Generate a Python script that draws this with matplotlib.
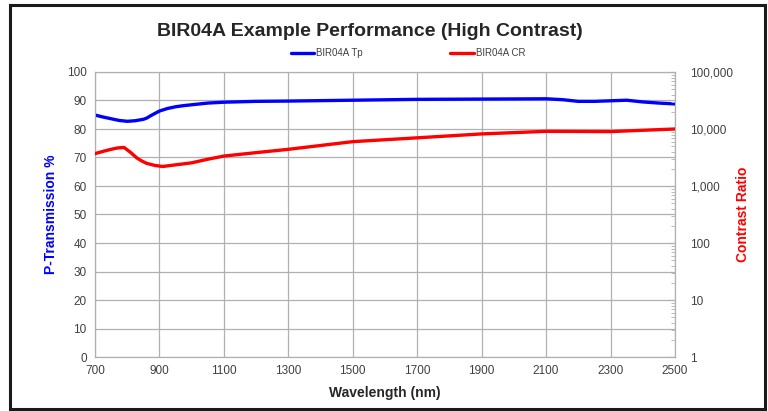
import matplotlib
matplotlib.use('Agg')
import matplotlib.pyplot as plt
from matplotlib.ticker import FixedLocator, LogLocator, NullFormatter, FuncFormatter
from matplotlib.patches import Rectangle

plt.rcParams['font.family'] = ['Liberation Sans', 'DejaVu Sans']

# P-transmission (%), left axis
tp_wavelength = [700, 725, 750, 775, 800, 825, 850, 860, 875, 890, 900, 925, 950,
                 975, 1000, 1050, 1100, 1200, 1300, 1500, 1700, 1900, 2100, 2150,
                 2200, 2250, 2300, 2350, 2400, 2450, 2500]
tp_values = [84.9, 84.2, 83.6, 83.0, 82.7, 82.9, 83.4, 83.8, 84.8, 85.7, 86.3, 87.2,
             87.8, 88.2, 88.5, 89.1, 89.4, 89.7, 89.8, 90.1, 90.4, 90.5, 90.6, 90.3,
             89.7, 89.7, 89.9, 90.1, 89.5, 89.1, 88.8]

# Contrast ratio, right log axis
cr_wavelength = [700, 725, 750, 770, 790, 810, 830, 845, 860, 885, 910, 950, 1000,
                 1050, 1100, 1200, 1300, 1500, 1700, 1900, 2100, 2200, 2300, 2400, 2500]
cr_values = [3700, 4050, 4400, 4650, 4750, 3900, 3100, 2750, 2500, 2300, 2200, 2350,
             2550, 2950, 3350, 3850, 4400, 6000, 7000, 8200, 9100, 9050, 9000, 9500, 10000]

x_ticks = [700, 900, 1100, 1300, 1500, 1700, 1900, 2100, 2300, 2500]
left_ticks = list(range(0, 101, 10))
right_ticks = [1, 10, 100, 1000, 10000, 100000]

grid_c = '#b0b0b0'
text_c = '#404040'

fig = plt.figure(figsize=(7.68, 4.11), dpi=100)
ax = fig.add_axes([95 / 768, 1 - 357 / 411, 580 / 768, 285 / 411])

l1, = ax.plot(tp_wavelength, tp_values, color='#0000ff', lw=2.4,
              solid_capstyle='round', solid_joinstyle='round', label='BIR04A Tp', zorder=3)
ax.set_xlim(700, 2500)
ax.set_ylim(0, 100)
ax.xaxis.set_major_locator(FixedLocator(x_ticks))
ax.yaxis.set_major_locator(FixedLocator(left_ticks))
ax.grid(True, color=grid_c, lw=0.9)
ax.tick_params(length=0, labelsize=8.5, labelcolor=text_c, pad=6)
for s in ax.spines.values():
    s.set_color(grid_c)
ax.set_xlabel('Wavelength (nm)', fontsize=10, fontweight='bold', color='#262626', labelpad=6)
ax.set_ylabel('P-Transmission %', fontsize=10, fontweight='bold', color='#0000ff', labelpad=6)

ax2 = ax.twinx()
l2, = ax2.plot(cr_wavelength, cr_values, color='#ff0000', lw=2.4,
               solid_capstyle='round', solid_joinstyle='round', label='BIR04A CR', zorder=3)
ax2.set_yscale('log')
ax2.set_ylim(1, 100000)
ax2.yaxis.set_major_locator(FixedLocator(right_ticks))
ax2.yaxis.set_minor_locator(LogLocator(base=10, subs=range(2, 10)))
ax2.yaxis.set_minor_formatter(NullFormatter())
ax2.yaxis.set_major_formatter(FuncFormatter(lambda v, p: f'{int(round(v)):,}'))
ax2.tick_params(axis='y', which='major', direction='in', length=5, color=grid_c,
                labelsize=8.5, labelcolor=text_c, pad=11)
ax2.tick_params(axis='y', which='minor', direction='in', length=3, color=grid_c)
for s in ax2.spines.values():
    s.set_color(grid_c)
ax2.set_ylabel('Contrast Ratio', fontsize=10, fontweight='bold', color='#ff0000', labelpad=2)

fig.text(370 / 768, 1 - 31 / 411, 'BIR04A Example Performance (High Contrast)',
         ha='center', va='center', fontsize=14, fontweight='bold', color='#262626')
fig.legend(handles=[l1, l2], loc='center', bbox_to_anchor=(408 / 768, 1 - 53 / 411),
           ncol=2, frameon=False, fontsize=7, handlelength=2.4, columnspacing=9,
           handletextpad=0.2, labelcolor=text_c)

fig.patches.append(Rectangle((10 / 768, 2 / 411), 755 / 768, 404 / 411,
                             transform=fig.transFigure, fill=False,
                             edgecolor='#1a1a1a', lw=2.2))

fig.savefig('out.png', dpi=100)
